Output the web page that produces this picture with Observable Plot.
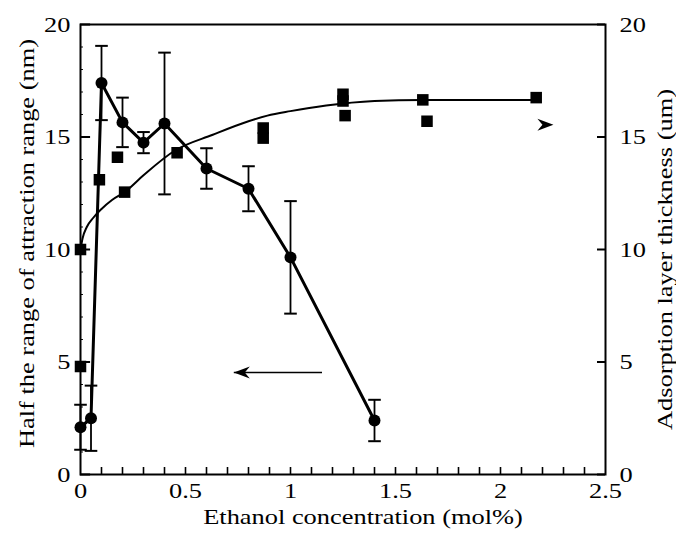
<!DOCTYPE html>
<html><head><meta charset="utf-8">
<script src="https://cdn.jsdelivr.net/npm/d3@7"></script>
<script src="https://cdn.jsdelivr.net/npm/@observablehq/plot@0.6"></script>
<style>
html,body{margin:0;padding:0;background:#fff}
#chart svg{font-family:"Liberation Serif","Times New Roman",serif}
</style>
</head><body><div id="chart"></div>
<script>
// ---- axis ticks ----
const xTickLabels = [0, 0.5, 1, 1.5, 2, 2.5];
const xMinorTicks = [0.1,0.2,0.3,0.4,0.5,0.6,0.7,0.8,0.9,1.0,1.1,1.2,1.3,1.4,1.5,1.6,1.7,1.8,1.9,2.0,2.1,2.2,2.3,2.4];
const yTickLabels = [0, 5, 10, 15, 20];
const yMinorTicks = [1,2,3,4,6,7,8,9,11,12,13,14,16,17,18,19];

// ---- half the range of attraction range (nm), left axis ----
const rangeX   = [0,   0.05, 0.1,  0.2,   0.3,   0.4,  0.6,  0.8,  1.0,  1.4];
const rangeY   = [2.1, 2.5,  17.4, 15.65, 14.75, 15.6, 13.6, 12.7, 9.65, 2.4];
const rangeErr = [1.0, 1.45, 1.65, 1.1,   0.47,  3.15, 0.9,  1.0,  2.5,  0.92];

// ---- adsorption layer thickness (um), right axis ----
const thickX = [0,   0,    0.09, 0.176, 0.21,  0.46, 0.87, 0.87,  1.25, 1.25, 1.26,  1.63,  1.65, 2.17];
const thickY = [4.8, 10.0, 13.1, 14.1,  12.55, 14.3, 15.4, 14.95, 16.9, 16.6, 15.95, 16.65, 15.7, 16.75];

// ---- fitted curve through the thickness data ----
const fitX = [0,    0.01, 0.03, 0.06, 0.1,  0.15, 0.21,  0.3,  0.45, 0.63, 0.8,  0.89,  1.0,   1.17, 1.4,  1.63,  1.9,   2.17];
const fitY = [10.0, 10.5, 11.0, 11.4, 11.8, 12.2, 12.55, 13.3, 14.4, 15.1, 15.7, 15.95, 16.15, 16.4, 16.6, 16.65, 16.65, 16.65];

// ---- annotation arrows [x, y] ----
const arrowLeftFrom = [1.15, 4.53];
const arrowLeftTo   = [0.73, 4.53];
const arrowRightTip = [2.252, 15.55];

// ---- texts ----
const xTitle = "Ethanol concentration (mol%)";
const yLeftTitle = "Half the range of attraction range (nm)";
const yRightTitle = "Adsorption layer thickness (um)";

const circles = rangeX.map((x, i) => ({x, y: rangeY[i], lo: rangeY[i] - rangeErr[i], hi: rangeY[i] + rangeErr[i]}));
const squares = thickX.map((x, i) => ({x, y: thickY[i]}));
const fit = fitX.map((x, i) => ({x, y: fitY[i]}));

const capHalf = 0.03;
const headRight = {draw(ctx, size) { const k = Math.sqrt(size) / 10;
  ctx.moveTo(0, 0); ctx.lineTo(-16*k, -6*k); ctx.lineTo(-11*k, 0); ctx.lineTo(-16*k, 6*k); ctx.closePath(); }};
const headLeft = {draw(ctx, size) { const k = Math.sqrt(size) / 10;
  ctx.moveTo(0, 0); ctx.lineTo(16*k, -6*k); ctx.lineTo(11*k, 0); ctx.lineTo(16*k, 6*k); ctx.closePath(); }};
const headR = 10 / Math.sqrt(Math.PI);

const chart = Plot.plot({
  width: 676, height: 533,
  marginLeft: 80, marginRight: 71, marginTop: 24, marginBottom: 59,
  x: {domain: [0, 2.5]},
  y: {domain: [0, 20]},
  style: {fontFamily: "Liberation Serif, serif", fontSize: "22px", color: "black", background: "white", overflow: "visible"},
  marks: [
    Plot.axisX({ticks: xTickLabels, tickSize: 0, tickPadding: 8, tickFormat: d => String(d), label: null}),
    Plot.axisY({ticks: yTickLabels, anchor: "left", tickSize: 0, tickPadding: 10, label: null}),
    Plot.axisY({ticks: yTickLabels, anchor: "right", tickSize: 0, tickPadding: 14, label: null}),
    // inward ticks
    Plot.ruleX(xMinorTicks, {x: d => d, y1: 0, y2: 0.31, strokeWidth: 1.6}),
    Plot.ruleY(yTickLabels, {y: d => d, x1: 0, x2: 0.048, strokeWidth: 2}),
    Plot.ruleY(yMinorTicks, {y: d => d, x1: 0, x2: 0.014, strokeWidth: 1}),
    Plot.ruleY(yTickLabels, {y: d => d, x1: 2.462, x2: 2.5, strokeWidth: 2}),
    // fitted curve and squares
    Plot.line(fit, {x: "x", y: "y", curve: "monotone-x", strokeWidth: 2, stroke: "black"}),
    Plot.dot(squares, {x: "x", y: "y", symbol: "square", r: 6.5, fill: "black", stroke: "none"}),
    // attraction range series
    Plot.line(circles, {x: "x", y: "y", strokeWidth: 3, stroke: "black"}),
    Plot.ruleX(circles, {x: "x", y1: "lo", y2: "hi", strokeWidth: 1.8}),
    Plot.link(circles, {x1: d => d.x - capHalf, x2: d => d.x + capHalf, y1: "hi", y2: "hi", strokeWidth: 2}),
    Plot.link(circles, {x1: d => d.x - capHalf, x2: d => d.x + capHalf, y1: "lo", y2: "lo", strokeWidth: 2}),
    Plot.dot(circles, {x: "x", y: "y", r: 6, fill: "black", stroke: "none"}),
    // arrows
    Plot.link([0], {x1: () => arrowLeftFrom[0], y1: () => arrowLeftFrom[1], x2: () => arrowLeftTo[0], y2: () => arrowLeftTo[1], strokeWidth: 1.5}),
    Plot.dot([0], {x: () => arrowLeftTo[0], y: () => arrowLeftTo[1], symbol: headLeft, r: headR, fill: "black", stroke: "none"}),
    Plot.dot([0], {x: () => arrowRightTip[0], y: () => arrowRightTip[1], symbol: headRight, r: headR, fill: "black", stroke: "none"}),
    // titles
    Plot.text([xTitle], {text: d => d, frameAnchor: "bottom", textAnchor: "middle", lineAnchor: "middle", dx: 20, dy: 42}),
    Plot.text([yLeftTitle], {text: d => d, frameAnchor: "left", textAnchor: "middle", lineAnchor: "middle", rotate: -90, dx: -54, dy: -6}),
    Plot.text([yRightTitle], {text: d => d, frameAnchor: "right", textAnchor: "middle", lineAnchor: "middle", rotate: -90, dx: 59, dy: 10}),
    Plot.frame({strokeWidth: 2})
  ]
});
document.getElementById("chart").appendChild(chart);
// the original typeface is set about 20% wider than Times
d3.select(chart).selectAll("text").each(function() {
  const len = this.getComputedTextLength();
  if (len > 0) d3.select(this).attr("textLength", len * 1.2).attr("lengthAdjust", "spacingAndGlyphs");
});
</script>
</body></html>
